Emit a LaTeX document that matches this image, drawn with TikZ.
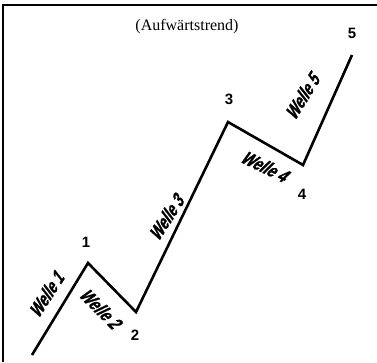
\documentclass[tikz,border=0pt]{standalone}
\usepackage{fontspec}
\setmainfont{Liberation Serif}
\newfontfamily\arialfont{Liberation Sans}
\newfontfamily\wellefont[FakeStretch=0.74,FakeSlant=0.35,FakeBold=1.2]{Liberation Sans Bold}
\begin{document}
\begin{tikzpicture}[x=1pt,y=-1pt,
  frame/.style={line width=1.6pt},
  wave/.style={line width=2.6pt, line join=miter, line cap=butt},
  num/.style={font=\arialfont\bfseries\fontsize{15}{17}\selectfont, inner sep=0pt},
  wlabel/.style={font=\wellefont\fontsize{19}{21}\selectfont, inner sep=0pt},
  title/.style={font=\fontsize{16}{18}\selectfont, inner sep=0pt}]
\useasboundingbox (0,0) rectangle (377,362);
% frame
\coordinate (fa) at (3,362);
\coordinate (fb) at (3,5);
\coordinate (fc) at (377,5);
\draw[frame] (fa) -- (fb) -- (fc);
% title
\node[title] (t) at (187,27) {(Aufwärtstrend)};
% wave points
\coordinate (p0) at (32,355);
\coordinate (p1) at (88,263);
\coordinate (p2) at (136,312);
\coordinate (p3) at (228,122);
\coordinate (p4) at (303,165);
\coordinate (p5) at (352,55);
\draw[wave] (p0) -- (p1) -- (p2) -- (p3) -- (p4) -- (p5);
% numbers
\node[num] (n1) at (86,242) {1};
\node[num] (n2) at (135,335) {2};
\node[num] (n3) at (229,99) {3};
\node[num] (n4) at (302,194) {4};
\node[num] (n5) at (352,33) {5};
% wave labels
\node[wlabel, rotate=57] (w1) at (46,295) {Welle 1};
\node[wlabel, rotate=-45] (w2) at (100,308) {Welle 2};
\node[wlabel, rotate=57] (w3) at (166,218) {Welle 3};
\node[wlabel, rotate=-26] (w4) at (264,166) {Welle 4};
\node[wlabel, rotate=58] (w5) at (302,97) {Welle 5};
\end{tikzpicture}
\end{document}
